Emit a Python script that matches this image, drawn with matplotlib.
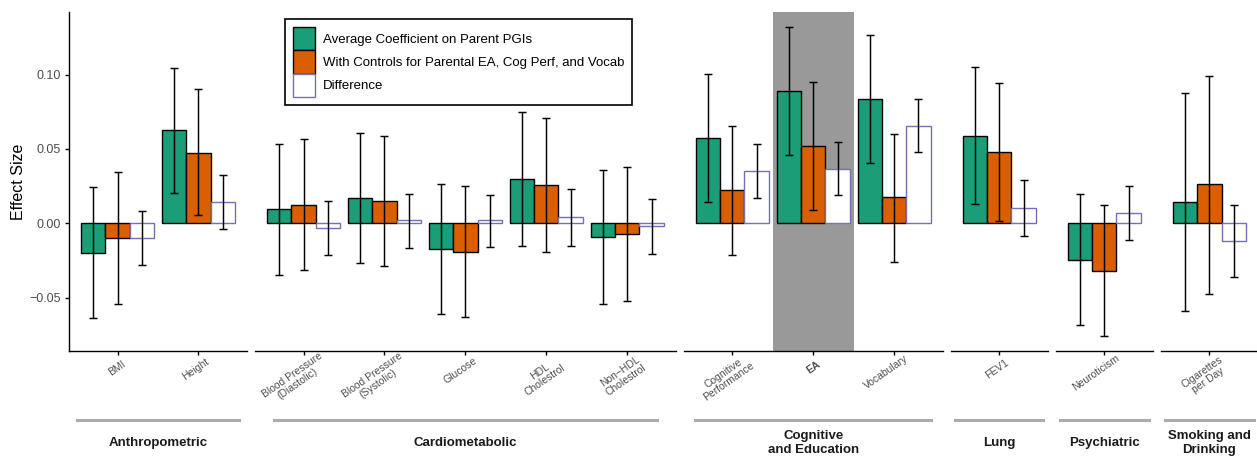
import numpy as np
import matplotlib.pyplot as plt
from matplotlib.lines import Line2D
from matplotlib.patches import Patch

plt.rcParams['font.family'] = ['Liberation Sans', 'DejaVu Sans']

# panels (facets) and their outcomes
groups = ["Anthropometric", "Cardiometabolic", "Cognitive\nand Education",
          "Lung", "Psychiatric", "Smoking and\nDrinking"]
group_sizes = [2, 5, 3, 1, 1, 1]
outcomes = ["BMI", "Height",
            "Blood Pressure\n(Diastolic)", "Blood Pressure\n(Systolic)", "Glucose",
            "HDL\nCholestrol", "Non\u2212HDL\nCholestrol",
            "Cognitive\nPerformance", "EA", "Vocabulary",
            "FEV1", "Neuroticism", "Cigarettes\nper Day"]
highlight = "EA"

avg = [-0.0197, 0.0624, 0.0096, 0.0171, -0.0172, 0.0298, -0.0092,
       0.0575, 0.0887, 0.0833, 0.0588, -0.0247, 0.0142]
avg_lo = [-0.064, 0.0203, -0.0346, -0.027, -0.0613, -0.0152, -0.054,
          0.014, 0.0457, 0.0405, 0.0127, -0.0684, -0.0593]
avg_hi = [0.0245, 0.1047, 0.0535, 0.061, 0.0267, 0.075, 0.0358,
          0.1007, 0.1317, 0.1263, 0.105, 0.0194, 0.0876]

ctrl = [-0.010, 0.0475, 0.0124, 0.0149, -0.0192, 0.0256, -0.0074,
        0.0223, 0.0519, 0.0174, 0.0481, -0.0319, 0.0261]
ctrl_lo = [-0.054, 0.0055, -0.0317, -0.029, -0.0633, -0.0196, -0.0524,
           -0.0212, 0.0087, -0.0257, 0.0018, -0.0755, -0.0475]
ctrl_hi = [0.0343, 0.090, 0.0564, 0.059, 0.0249, 0.0706, 0.0381,
           0.0655, 0.0947, 0.0601, 0.0945, 0.012, 0.0993]

diff = [-0.010, 0.0145, -0.0029, 0.002, 0.002, 0.004, -0.002,
        0.035, 0.0368, 0.0657, 0.0104, 0.0071, -0.012]
diff_lo = [-0.0283, -0.0038, -0.0212, -0.0163, -0.0158, -0.015, -0.0205,
           0.0167, 0.0189, 0.0477, -0.0083, -0.011, -0.0361]
diff_hi = [0.0084, 0.0328, 0.0149, 0.0198, 0.0189, 0.0229, 0.0165,
           0.053, 0.0546, 0.0838, 0.0292, 0.0249, 0.012]

series = [
    ("Average Coefficient on Parent PGIs", avg, avg_lo, avg_hi, "#1B9E77", "black"),
    ("With Controls for Parental EA, Cog Perf, and Vocab", ctrl, ctrl_lo, ctrl_hi, "#D95F02", "black"),
    ("Difference", diff, diff_lo, diff_hi, "white", "#7570B3"),
]

# shared y range, ggplot style 5% expansion
all_lo = min(min(s[2]) for s in series)
all_hi = max(max(s[3]) for s in series)
pad = 0.05 * (all_hi - all_lo)
ylim = (all_lo - pad, all_hi + pad)

W, H = 1257, 458
fig = plt.figure(figsize=(W / 100, H / 100), dpi=100)
left, right, gap = 69, 1258, 8
top_px, bot_px = 12, 351
unit = (right - left - gap * (len(group_sizes) - 1)) / sum(n + 0.2 for n in group_sizes)

bw = 0.3
tick_px = []
x0 = left
start = 0
for gi, (grp, n) in enumerate(zip(groups, group_sizes)):
    w = (n + 0.2) * unit
    ax = fig.add_axes([x0 / W, 1 - bot_px / H, w / W, (bot_px - top_px) / H])
    idx = list(range(start, start + n))
    pos = np.arange(1, n + 1)
    for k, i in enumerate(idx):
        if outcomes[i] == highlight:
            ax.axvspan(pos[k] - 0.5, pos[k] + 0.5, color="#999999", lw=0, zorder=0)
    for j, (lab, val, lo, hi, fc, ec) in enumerate(series):
        xs = pos + (j - 1) * bw
        v = np.array([val[i] for i in idx])
        ax.bar(xs, v, width=bw, color=fc, edgecolor=ec, linewidth=1.0, zorder=2)
        err = [v - np.array([lo[i] for i in idx]), np.array([hi[i] for i in idx]) - v]
        ax.errorbar(xs, v, yerr=err, fmt="none", ecolor="black", elinewidth=1.05,
                    capsize=2.6, capthick=1.05, zorder=3)
    ax.set_xlim(0.4, n + 0.6)
    ax.set_ylim(*ylim)
    ax.set_xticks(pos)
    ax.set_xticklabels([])
    ax.tick_params(axis="x", length=3, width=1.0, color="black")
    for s in ["top", "right"]:
        ax.spines[s].set_visible(False)
    ax.spines["bottom"].set_linewidth(1.0)
    if gi == 0:
        ax.spines["left"].set_linewidth(1.0)
        ax.set_yticks([-0.05, 0.0, 0.05, 0.10])
        ax.set_yticklabels([f"{t:.2f}".replace("-", "\u2212") for t in [-0.05, 0.0, 0.05, 0.10]])
        ax.tick_params(axis="y", length=3, width=1.0, labelsize=9, labelcolor="#4D4D4D", pad=3)
    else:
        ax.spines["left"].set_visible(False)
        ax.tick_params(axis="y", left=False, labelleft=False)
    ax.patch.set_alpha(0)

    # strip at the bottom: grey line and bold label
    fig.add_artist(Line2D([(x0 + 0.045 * w) / W, (x0 + w - 0.045 * w) / W],
                          [1 - 420 / H, 1 - 420 / H], transform=fig.transFigure,
                          color="#ABABAB", lw=2.2))
    fig.text((x0 + w / 2) / W, 1 - 443 / H, grp, ha="center", va="center",
             fontsize=9.5, fontweight="bold", color="#1A1A1A", linespacing=1.15)

    for k in range(n):
        tick_px.append(x0 + (pos[k] - 0.4) * unit)
    x0 += w + gap
    start += n

# rotated x tick labels
renderer = fig.canvas.get_renderer()
ang = np.deg2rad(35)
for xp, lab in zip(tick_px, outcomes):
    t = fig.text(0, 0, lab, fontsize=7.5, color="#4D4D4D", ha="center", va="top",
                 multialignment="center", linespacing=1.0,
                 fontweight="bold" if lab == highlight else "normal")
    tw = t.get_window_extent(renderer).width
    cx = xp - 0.25 * tw * np.cos(ang)
    cy = (H - 361) - 0.25 * tw * np.sin(ang)
    t.set_position((cx / W, cy / H))
    t.set_rotation(35)
    t.set_rotation_mode("anchor")

fig.text(18.5 / W, 1 - 182 / H, "Effect Size", rotation=90, ha="center", va="center",
         fontsize=11.5, color="black")

handles = [Patch(facecolor=fc, edgecolor=ec, linewidth=1.0) for _, _, _, _, fc, ec in series]
leg = fig.legend(handles, [s[0] for s in series], loc="upper left",
                 bbox_to_anchor=(285 / W, 1 - 19 / H), frameon=True, fancybox=False,
                 edgecolor="black", framealpha=1, fontsize=9.5, handlelength=1.65,
                 handleheight=2.35, labelspacing=0.0, handletextpad=0.6,
                 borderpad=0.6, borderaxespad=0)
leg.get_frame().set_linewidth(1.2)

fig.savefig("out.png", dpi=100)
